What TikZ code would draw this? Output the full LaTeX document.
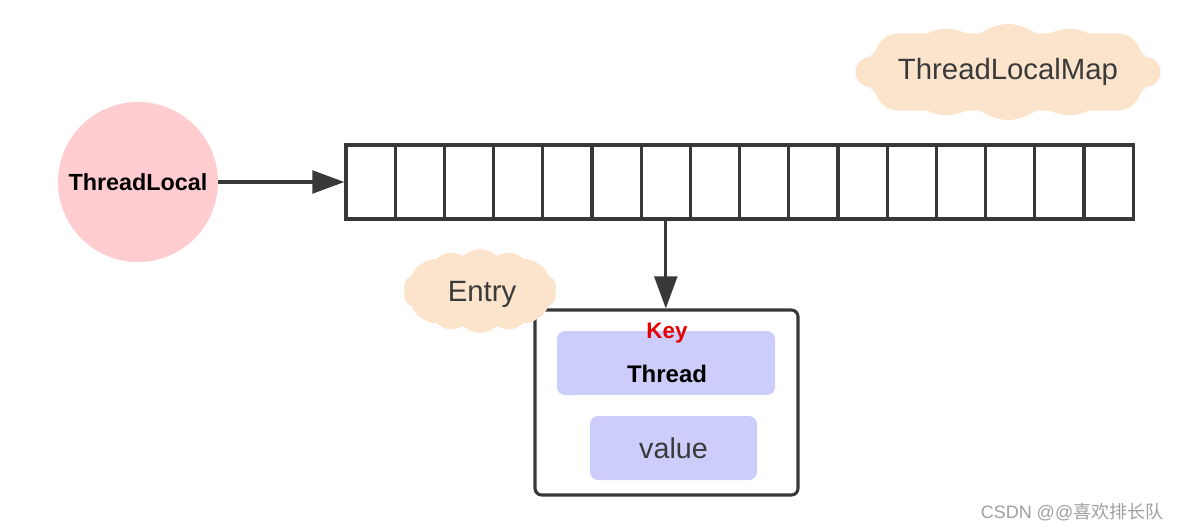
\documentclass[tikz,border=0pt]{standalone}
\usepackage{fontspec}
\setmainfont{Liberation Sans}
\newfontfamily\cjkfont{Noto Sans CJK SC}
\usetikzlibrary{arrows.meta,shapes.symbols}
\definecolor{linec}{HTML}{383838}
\definecolor{peach}{HTML}{FBE4CB}
\definecolor{pinkc}{HTML}{FFCCD0}
\definecolor{lav}{HTML}{CDCDFB}
\definecolor{txt}{HTML}{3A3A3A}
\tikzset{
  cellbox/.style={draw=linec,line width=2.4pt,minimum width=36.9pt,minimum height=55.5pt,inner sep=0pt},
  cloudbox/.style={cloud,cloud puffs=14,cloud puff arc=90,cloud ignores aspect,fill=peach,draw=none,inner sep=0pt},
  cloudcore/.style={fill=peach,draw=none,rounded corners=18pt,inner sep=0pt},
  conn/.style={draw=linec,line width=2.3pt,-{Triangle[length=24pt,width=17pt]}},
  inbox/.style={fill=lav,rounded corners=6pt,inner sep=0pt},
}
\begin{document}
\begin{tikzpicture}[x=0.75pt,y=-0.75pt]
\useasboundingbox (0,0) rectangle (1184,531);
% ThreadLocal circle
\node[circle,fill=pinkc,minimum size=120pt,inner sep=0pt,font=\fontsize{17.5}{20}\selectfont\bfseries] (tl) at (138,182) {ThreadLocal};
% array
\foreach \i in {1,...,16}{
  \node[cellbox] (c\i) at ({346+49.2*(\i-0.5)},182) {};
}
% ThreadLocalMap cloud
\node[cloudbox,minimum width=228pt,minimum height=72pt] (map) at (1008,72) {};
\node[cloudcore,minimum width=200pt,minimum height=58pt] (mapc) at (1008,72) {};
\node[text=txt,font=\fontsize{22}{26}\selectfont] (mapt) at (1008,72) {ThreadLocalMap};
% entry box
\node[draw=linec,line width=2.3pt,rounded corners=5pt,minimum width=197.25pt,minimum height=138.75pt,inner sep=0pt] (entry) at (666.5,402.5) {};
\node[inbox,minimum width=163.5pt,minimum height=48pt] (thr) at (666,363) {};
\node[font=\fontsize{18}{20}\selectfont\bfseries,text=black] (thrt) at (667,374) {Thread};
\node[font=\fontsize{16.8}{19}\selectfont\bfseries,text=red!90!black] (key) at (667,333) {Key};
\node[inbox,minimum width=125.25pt,minimum height=48pt,font=\fontsize{21.5}{24}\selectfont,text=txt] (val) at (673.5,448) {value};
% Entry cloud
\node[cloudbox,minimum width=115pt,minimum height=63pt] (ent) at (480,291) {};
\node[cloudcore,rounded corners=14pt,minimum width=96pt,minimum height=48pt] (entc) at (480,291) {};
\node[text=txt,font=\fontsize{22}{26}\selectfont] (entt) at (482,294) {Entry};
% connectors
\draw[conn] (tl.east) -- (c1.west);
\draw[conn] (c7.south) -- (c7.south |- entry.north);
% watermark
\node[text=gray!75,font=\fontsize{13.5}{16}\selectfont,anchor=east] (wm) at (1168,512) {CSDN @@{\cjkfont 喜欢排长队}};
\end{tikzpicture}
\end{document}
